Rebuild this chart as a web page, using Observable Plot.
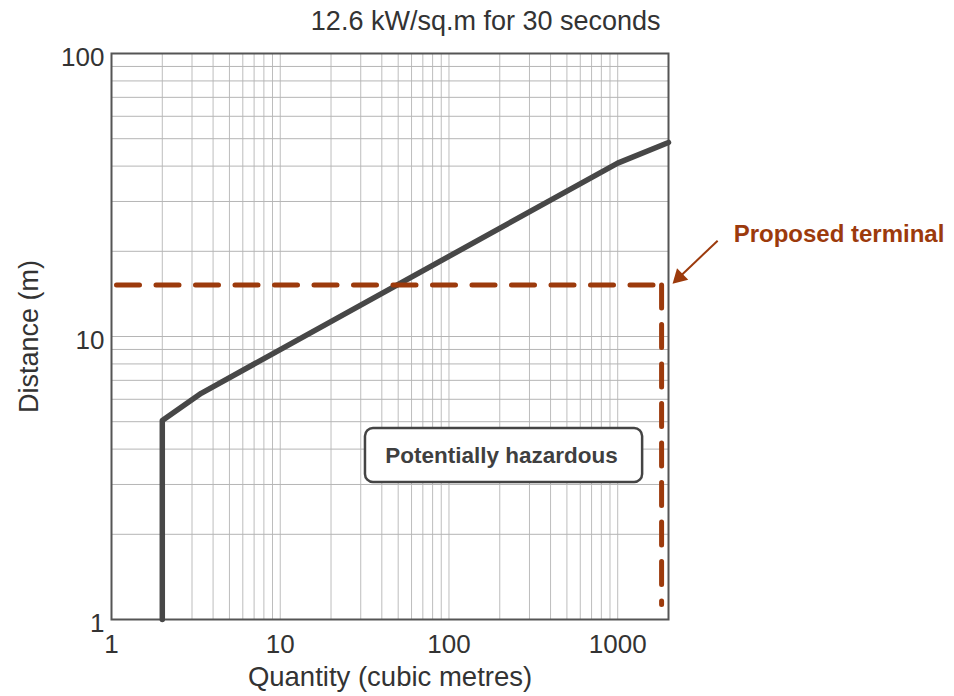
<!DOCTYPE html>
<html>
<head>
<meta charset="utf-8">
<script src="https://cdn.jsdelivr.net/npm/d3@7"></script>
<script src="https://cdn.jsdelivr.net/npm/@observablehq/plot@0.6"></script>
<style>
  html, body { margin: 0; padding: 0; background: #fff; }
  #chart svg { display: block; }
</style>
</head>
<body>
<div id="chart"></div>
<script>
// ---- Data ----
const title = "12.6 kW/sq.m for 30 seconds";
const xLabel = "Quantity (cubic metres)";
const yLabel = "Distance (m)";

const xTicks = [1, 10, 100, 1000];
const yTicks = [1, 10, 100];

const xGrid = [1, 2, 3, 4, 5, 6, 7, 8, 9,
               10, 20, 30, 40, 50, 60, 70, 80, 90,
               100, 200, 300, 400, 500, 600, 700, 800, 900,
               1000, 2000];
const yGrid = [1, 2, 3, 4, 5, 6, 7, 8, 9,
               10, 20, 30, 40, 50, 60, 70, 80, 90, 100];

// Hazard curve (quantity m3, distance m)
const curveQty  = [2, 2, 3.4, 1000, 2000];
const curveDist = [1, 5.05, 6.3, 41, 48.5];

// Proposed terminal
const terminalQty  = 1820;
const terminalDist = 15.2;
const terminalFloor = 1.13;

// Annotations
const terminalLabel = "Proposed terminal";
const terminalLabelQty = 4865, terminalLabelDist = 22.9;
const arrowFrom = {qty: 3910, dist: 21.8};
const arrowHead = {qty: 2317, dist: 16.2};

const hazardLabel = "Potentially hazardous";
const hazardBox = {qty1: 32, qty2: 1405, dist1: 3.05, dist2: 4.73};
const hazardLabelQty = 205, hazardLabelDist = 3.8;

const curve = curveQty.map((q, i) => ({q, d: curveDist[i]}));
const hLine = [{q: 1, d: terminalDist}, {q: terminalQty, d: terminalDist}];
const vLine = [{q: terminalQty, d: terminalDist}, {q: terminalQty, d: terminalFloor}];

const red = "#9c3a0c";
const ink = "#333";

const chart = Plot.plot({
  width: 954,
  height: 696,
  marginLeft: 111,
  marginRight: 286,
  marginTop: 53,
  marginBottom: 77,
  x: {type: "log", domain: [1, 2000]},
  y: {type: "log", domain: [1, 100]},
  style: {
    fontFamily: "'Liberation Sans', Arial, Helvetica, sans-serif",
    fontSize: "26px",
    color: ink,
    background: "#fff"
  },
  marks: [
    Plot.ruleX(xGrid, {stroke: "#bdbdbd", strokeWidth: 1}),
    Plot.ruleY(yGrid, {stroke: "#b5b5b5", strokeWidth: 1}),
    Plot.frame({stroke: "#555", strokeWidth: 2}),
    Plot.axisX({ticks: xTicks, tickSize: 0, tickPadding: 15, tickFormat: d => String(d),
                label: null, fontSize: 26}),
    Plot.axisY({ticks: yTicks, tickSize: 0, tickPadding: 7, dy: 4, tickFormat: d => String(d),
                label: null, fontSize: 26}),
    // hazard curve
    Plot.line(curve, {x: "q", y: "d", stroke: "#474747", strokeWidth: 5.5, strokeLinejoin: "round"}),
    // proposed terminal dashed lines
    Plot.line(hLine, {x: "q", y: "d", stroke: red, strokeWidth: 5,
                      strokeDasharray: "23,16.5", strokeDashoffset: 34.5}),
    Plot.line(vLine, {x: "q", y: "d", stroke: red, strokeWidth: 5,
                      strokeDasharray: "23,16.5"}),
    // potentially hazardous box
    Plot.rect([hazardBox], {x1: "qty1", x2: "qty2", y1: "dist1", y2: "dist2",
                            fill: "#fff", stroke: "#444", strokeWidth: 2.5, rx: 8}),
    Plot.text([hazardLabel], {x: () => hazardLabelQty, y: () => hazardLabelDist, text: d => d,
                              fontWeight: "bold", fontSize: 22.5, fill: "#3f3f3f"}),
    // annotation arrow
    Plot.link([{}], {x1: () => arrowFrom.qty, y1: () => arrowFrom.dist,
                     x2: () => arrowHead.qty, y2: () => arrowHead.dist,
                     stroke: red, strokeWidth: 2}),
    Plot.dot([{}], {x: () => arrowHead.qty, y: () => arrowHead.dist, symbol: "triangle",
                    r: 6, rotate: 226, fill: red, stroke: "none"}),
    Plot.text([terminalLabel], {x: () => terminalLabelQty, y: () => terminalLabelDist, text: d => d,
                                textAnchor: "start", fontWeight: "bold", fontSize: 24, fill: red}),
    // title and axis labels
    Plot.text([title], {frameAnchor: "top-right", textAnchor: "end", lineAnchor: "middle",
                        dx: -8, dy: -32, text: d => d, fontSize: 27, fill: ink}),
    Plot.text([xLabel], {frameAnchor: "bottom", lineAnchor: "middle", dy: 58,
                         text: d => d, fontSize: 27.5, fill: ink}),
    Plot.text([yLabel], {frameAnchor: "left", textAnchor: "middle", lineAnchor: "middle",
                         dx: -82, rotate: -90, text: d => d, fontSize: 27, fill: ink})
  ]
});
document.getElementById("chart").append(chart);
</script>
</body>
</html>
